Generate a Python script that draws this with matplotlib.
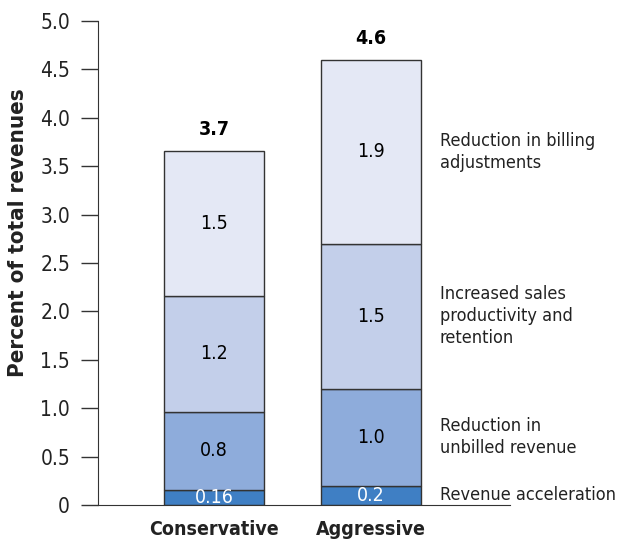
import numpy as np
import matplotlib.pyplot as plt

# data
scenarios = ['Conservative', 'Aggressive']
components = ['Revenue acceleration', 'Reduction in\nunbilled revenue',
              'Increased sales\nproductivity and\nretention',
              'Reduction in billing\nadjustments']
values = np.array([[0.16, 0.8, 1.2, 1.5],
                   [0.2, 1.0, 1.5, 1.9]])
seg_labels = [['0.16', '0.8', '1.2', '1.5'],
              ['0.2', '1.0', '1.5', '1.9']]
totals = ['3.7', '4.6']
yticks = [0, 0.5, 1.0, 1.5, 2.0, 2.5, 3.0, 3.5, 4.0, 4.5, 5.0]

colors = ['#3f7fc4', '#8eacdb', '#c3cfea', '#e4e8f5']
text_colors = ['white', 'black', 'black', 'black']

# condensed face to get close to the narrow original type
plt.rcParams['font.family'] = ['DejaVu Sans']
plt.rcParams['font.stretch'] = 'condensed'

fig = plt.figure(figsize=(6.19, 5.45), dpi=100)
ax = fig.add_axes([0.158, 0.0734, 0.666, 0.8881])

x = np.arange(len(scenarios))
width = 0.637
bottoms = np.zeros(len(scenarios))
for j in range(values.shape[1]):
    ax.bar(x, values[:, j], width, bottom=bottoms, color=colors[j],
           edgecolor='#333333', linewidth=1.0, zorder=2)
    for i in range(len(scenarios)):
        ax.text(x[i], bottoms[i] + values[i, j] / 2, seg_labels[i][j],
                ha='center', va='center', fontsize=14, color=text_colors[j])
    # labels next to the aggressive bar
    ax.text(x[-1] + width / 2 + 0.12, bottoms[-1] + values[-1, j] / 2,
            components[j], ha='left', va='center', fontsize=13,
            color='#222222', linespacing=1.3)
    bottoms += values[:, j]

for i in range(len(scenarios)):
    ax.text(x[i], bottoms[i] + 0.12, totals[i], ha='center',
            va='bottom', fontsize=14, fontweight='bold')

ax.set_xlim(-0.739, 1.885)
ax.set_ylim(0, 5)
ax.set_xticks(x)
ax.set_xticklabels(scenarios, fontsize=14, fontweight='bold', color='#222222')
ax.tick_params(axis='x', length=0, pad=11)
ax.set_yticks(yticks)
ax.set_yticklabels(['0' if v == 0 else '%.1f' % v for v in yticks],
                   fontsize=15, color='#222222')
ax.tick_params(axis='y', length=12, width=1, color='#333333', pad=8)

for s in ['top', 'right']:
    ax.spines[s].set_visible(False)
ax.spines['left'].set_color('#333333')
ax.spines['bottom'].set_color('#333333')

ax.set_ylabel('Percent of total revenues', fontsize=16, fontweight='bold',
              color='#222222')
ax.yaxis.set_label_coords(-0.17, 0.562)

fig.savefig('out.png', dpi=100)
